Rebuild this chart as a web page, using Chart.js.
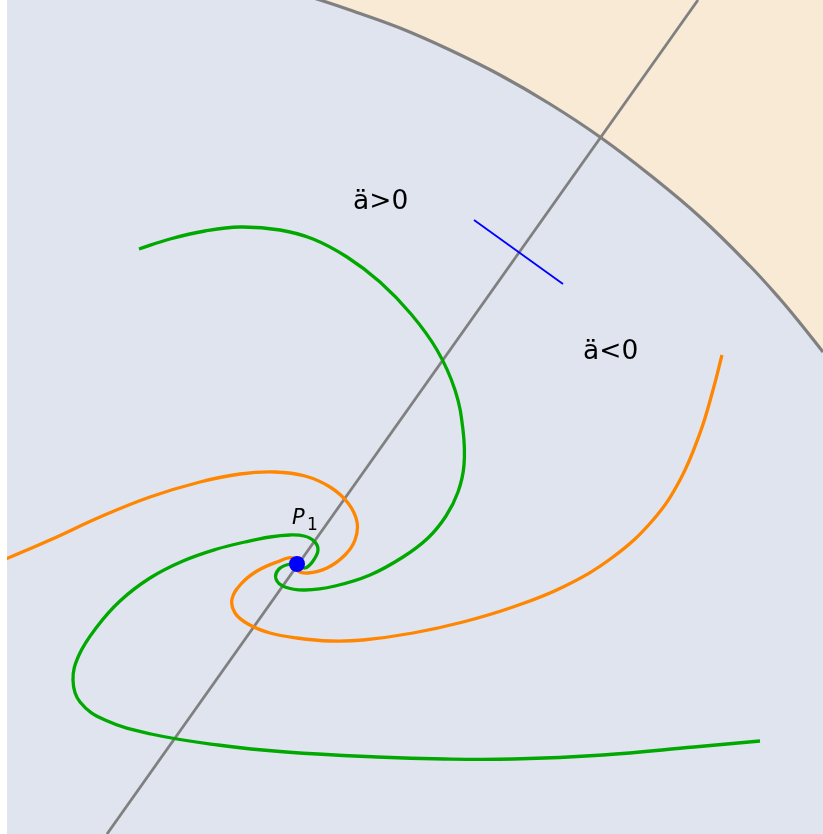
<!DOCTYPE html>
<html>
<head>
<meta charset="utf-8">
<script src="https://cdn.jsdelivr.net/npm/chart.js@4/dist/chart.umd.min.js"></script>
<style>
  html, body { margin: 0; padding: 0; background: #fff; }
  #wrap { position: absolute; left: 7px; top: 0; width: 816px; height: 834px; background: #dfe4ef; }
</style>
</head>
<body>
<div id="wrap"><canvas id="phase"></canvas></div>
<script>

// green trajectory: from the upper-left arm into P1, then out along the lower arm
const greenX = [139, 170, 205, 240, 280, 313, 347, 380, 411, 437, 455, 463, 464, 458, 446, 428, 403, 370, 335, 305, 285, 276, 279, 290, 297,
  305, 313, 318, 314, 304, 290, 270, 245, 217, 183, 150, 120, 96, 79, 73, 80, 105, 151, 218, 286, 377, 445, 513, 603, 694, 760];
const greenY = [249, 239, 231, 227, 230, 239, 257, 282, 314, 350, 390, 430, 465, 492, 516, 538, 557, 575, 586, 590, 587, 579, 569, 564, 564,
  568, 561, 550, 541, 536, 535, 537, 542, 549, 561, 578, 601, 628, 655, 680, 702, 720, 734, 745, 752, 757, 759, 759, 755, 747, 741];

// orange trajectory: from the left edge into P1, then out to the right arm
const orangeX = [6, 50, 100, 150, 200, 240, 275, 305, 330, 348, 357, 355, 345, 327, 308, 297,
  293, 277, 257, 241, 232, 235, 248, 270, 297, 330, 363, 413, 463, 513, 563, 613, 653, 680, 700, 713, 722];
const orangeY = [559, 540, 517, 497, 482, 474, 472, 476, 487, 503, 522, 540, 555, 568, 573, 570,
  558, 562, 571, 584, 599, 613, 624, 633, 638, 641, 640, 633, 622, 607, 587, 557, 520, 480, 433, 390, 355];

// boundary circle (gray arc) and the line through P1
const arcX = [300, 320, 350, 400, 450, 500, 550, 600, 650, 700, 750, 780, 800, 823];
const arcY = [-6, 0, 10, 28, 50, 75, 104, 137, 175, 217, 266, 299, 323, 352];
const lineX = [698, 107];
const lineY = [0, 834];

// short blue tangent mark
const tickX = [474, 563];
const tickY = [220, 284];

// equilibrium point P1
const p1X = [297];
const p1Y = [564];

const textLabels = [
  { text: 'ä>0', x: 353, y: 209 },
  { text: 'ä<0', x: 583, y: 359 }
];

function toPoints(xs, ys) {
  return xs.map((x, i) => ({ x: x, y: ys[i] }));
}

const labelPlugin = {
  id: 'labels',
  afterDatasetsDraw(chart) {
    const ctx = chart.ctx;
    const sx = chart.scales.x, sy = chart.scales.y;
    ctx.save();
    ctx.fillStyle = '#000';
    ctx.textBaseline = 'alphabetic';
    ctx.textAlign = 'left';
    ctx.font = '26.5px "DejaVu Sans"';
    textLabels.forEach(l => {
      ctx.fillText(l.text, sx.getPixelForValue(l.x), sy.getPixelForValue(l.y));
    });
    // P with subscript 1 next to the point
    const px = sx.getPixelForValue(p1X[0]), py = sy.getPixelForValue(p1Y[0]);
    ctx.font = 'oblique 21px "DejaVu Sans"';
    ctx.fillText('P', px - 5, py - 40);
    ctx.font = '17px "DejaVu Sans"';
    ctx.fillText('1', px + 10, py - 34);
    ctx.restore();
  }
};

new Chart(document.getElementById('phase'), {
  type: 'scatter',
  data: {
    datasets: [
      {
        data: toPoints(p1X, p1Y),
        pointRadius: 8,
        pointBackgroundColor: '#0000ff',
        pointBorderWidth: 0,
        order: 0
      },
      {
        data: toPoints(tickX, tickY),
        showLine: true,
        borderColor: '#0000ff',
        borderWidth: 1.8,
        pointRadius: 0,
        order: 1
      },
      {
        data: toPoints(greenX, greenY),
        showLine: true,
        borderColor: '#00a800',
        borderWidth: 3.3,
        tension: 0.4,
        pointRadius: 0,
        order: 2
      },
      {
        data: toPoints(orangeX, orangeY),
        showLine: true,
        borderColor: '#ff8600',
        borderWidth: 3.3,
        tension: 0.4,
        pointRadius: 0,
        order: 3
      },
      {
        data: toPoints(lineX, lineY),
        showLine: true,
        borderColor: '#808080',
        borderWidth: 2.8,
        pointRadius: 0,
        order: 4
      },
      {
        data: toPoints(arcX, arcY),
        showLine: true,
        borderColor: '#808080',
        borderWidth: 3.2,
        tension: 0.4,
        pointRadius: 0,
        fill: 'end',
        backgroundColor: '#f9ead6',
        order: 5
      }
    ]
  },
  options: {
    responsive: true,
    maintainAspectRatio: false,
    animation: false,
    layout: { padding: 0, autoPadding: false },
    plugins: {
      legend: { display: false },
      tooltip: { enabled: false }
    },
    scales: {
      x: { type: 'linear', min: 7, max: 823, display: false },
      y: { type: 'linear', min: 0, max: 834, reverse: true, display: false }
    }
  },
  plugins: [labelPlugin]
});
</script>
</body>
</html>
